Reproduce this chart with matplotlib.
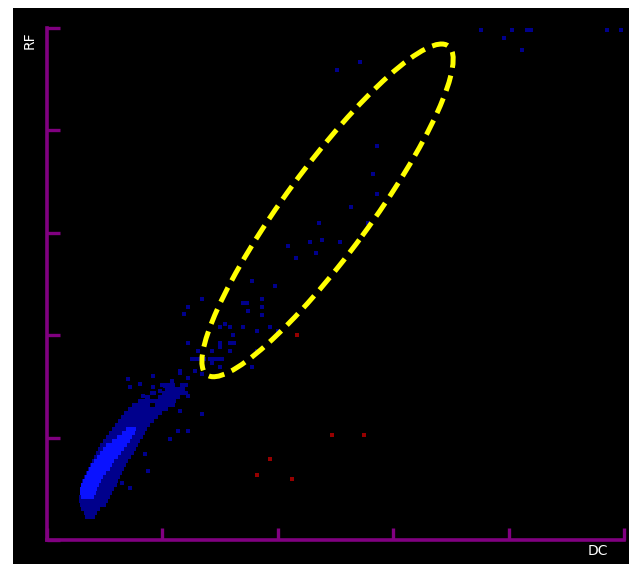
import matplotlib
matplotlib.use("Agg")
import matplotlib.pyplot as plt
from matplotlib.patches import Ellipse, Rectangle
from matplotlib.transforms import ScaledTranslation

# ---------------- data ----------------
# dense cluster, as horizontal runs of dark-blue cells: row y, run start x, run end x
dark_y = [1.517, 1.517, 1.477, 1.438, 1.438, 1.399, 1.399, 1.360, 1.321, 1.321,
          1.282, 1.243, 1.204, 1.164, 1.125, 1.086, 1.047, 1.008, 0.969, 0.930,
          0.890, 0.851, 0.812, 0.773, 0.734, 0.695, 0.656, 0.616, 0.577, 0.538,
          0.499, 0.460, 0.421, 0.382, 0.342, 0.303, 0.264, 0.225]
dark_x0 = [0.978, 1.150, 1.021, 0.891, 0.995, 0.848, 0.960, 0.787, 0.735, 0.934,
           0.701, 0.666, 0.640, 0.614, 0.588, 0.562, 0.536, 0.510, 0.484, 0.458,
           0.441, 0.424, 0.407, 0.389, 0.372, 0.355, 0.337, 0.320, 0.303, 0.294,
           0.285, 0.285, 0.277, 0.277, 0.285, 0.294, 0.320, 0.329]
dark_x1 = [1.107, 1.220, 1.194, 0.943, 1.220, 0.891, 1.150, 1.116, 0.891, 1.107,
           1.047, 0.995, 0.960, 0.926, 0.891, 0.865, 0.848, 0.830, 0.804, 0.787,
           0.770, 0.752, 0.727, 0.701, 0.683, 0.666, 0.649, 0.631, 0.614, 0.606,
           0.580, 0.562, 0.545, 0.528, 0.510, 0.458, 0.433, 0.415]
# bright-blue (densest) runs
bright_y = [1.086, 1.047, 1.008, 0.969, 0.930, 0.890, 0.851, 0.812, 0.773, 0.734,
            0.695, 0.656, 0.616, 0.577, 0.538, 0.499, 0.460, 0.421]
bright_x0 = [0.683, 0.649, 0.606, 0.562, 0.510, 0.484, 0.458, 0.433, 0.407, 0.381,
             0.363, 0.346, 0.329, 0.311, 0.294, 0.285, 0.285, 0.294]
bright_x1 = [0.770, 0.761, 0.735, 0.718, 0.692, 0.666, 0.640, 0.614, 0.580, 0.562,
             0.545, 0.510, 0.484, 0.467, 0.450, 0.433, 0.424, 0.407]

# sparse blue points (DC, RF)
blue_x = [0.917, 1.150, 1.220, 0.718, 0.804, 0.917, 0.830, 1.220, 1.150, 1.133,
          1.220, 1.064, 1.341, 0.874, 0.718, 0.649, 0.848, 1.021, 1.081, 0.978,
          0.701, 1.280, 1.341,
          1.773, 1.972, 1.341, 1.696, 1.730, 1.860, 1.220, 1.860, 1.185, 1.739,
          1.860, 1.540, 1.497, 1.583, 1.696, 1.929, 1.817, 1.998, 1.609, 1.220,
          1.497, 1.497, 1.583, 1.618, 1.306, 1.427, 1.583, 1.817, 1.254, 1.289,
          1.324, 1.358, 1.410, 1.445, 1.479, 1.514, 1.427, 1.497, 1.773, 1.150,
          2.085, 2.275, 2.379, 2.543, 2.154, 2.327, 2.630, 2.353, 2.785, 2.863,
          2.829, 2.863, 2.517, 2.708,
          3.763, 4.031, 4.161, 4.196, 3.962, 4.118, 4.853, 4.974]
blue_y = [1.605, 1.634, 1.585, 1.497, 1.526, 1.497, 1.409, 1.409, 1.262, 1.067,
          1.067, 0.988, 1.233, 0.675, 0.509, 0.558, 0.841, 1.507, 1.556, 1.458,
          1.575, 1.654, 1.624,
          2.534, 2.476, 2.358, 2.319, 2.319, 2.358, 2.280, 2.280, 2.211, 2.241,
          2.202, 2.114, 2.084, 2.084, 2.084, 2.084, 2.045, 2.045, 2.006, 1.928,
          1.928, 1.888, 1.928, 1.928, 1.849, 1.849, 1.849, 1.849, 1.771, 1.771,
          1.771, 1.771, 1.771, 1.771, 1.771, 1.771, 1.732, 1.693, 1.693, 1.654,
          2.867, 2.906, 2.926, 2.906, 2.750, 2.798, 3.249, 3.092, 3.092, 3.376,
          3.571, 3.845, 4.589, 4.667,
          4.980, 4.980, 4.980, 4.980, 4.902, 4.785, 4.980, 4.980]

# dark red points
red_x = [2.474, 2.751, 1.929, 1.817, 2.119, 2.163]
red_y = [1.027, 1.027, 0.793, 0.636, 0.597, 2.006]

# highlighted region (ellipse): centre in data units
ell_cx, ell_cy = 2.431, 3.219

tick_vals = [0, 1, 2, 3, 4, 5]

DARK = "#00008c"
BRIGHT = "#0a12ff"
RED = "#960000"
PURPLE = "#800080"

# ---------------- figure ----------------
W, H, DPI = 629, 564, 100
fig = plt.figure(figsize=(W / DPI, H / DPI), dpi=DPI, facecolor="white")
fig.patches.append(Rectangle((13 / W, 0), 1 - 13 / W, (H - 8) / H,
                             transform=fig.transFigure, facecolor="black",
                             edgecolor="none", zorder=-10))

ax = fig.add_axes([47 / W, 24 / H, (624 - 47) / W, (540 - 28) / H])
ax.set_facecolor("none")
ax.set_xlim(0, 5)
ax.set_ylim(0, 5)

row_h = 4 / 102.4
ax.barh(dark_y, [b - a for a, b in zip(dark_x0, dark_x1)], left=dark_x0,
        height=row_h, color=DARK, linewidth=0, zorder=2)
ax.barh(bright_y, [b - a for a, b in zip(bright_x0, bright_x1)], left=bright_x0,
        height=row_h, color=BRIGHT, linewidth=0, zorder=3)

ax.scatter(blue_x, blue_y, marker="s", s=9, color=DARK, linewidths=0, zorder=4,
           clip_on=False)
ax.scatter(red_x, red_y, marker="s", s=9, color=RED, linewidths=0, zorder=4)

# ellipse drawn in inches around its data-space centre
trans = fig.dpi_scale_trans + ScaledTranslation(ell_cx, ell_cy, ax.transData)
ell = Ellipse((0, 0), width=2 * 204 / DPI, height=2 * 43 / DPI, angle=53.7,
              transform=trans, fill=False, edgecolor="#ffff00", linewidth=3.6,
              linestyle=(0, (3.2, 1.6)), zorder=6, clip_on=False)
ax.add_patch(ell)

for s in ["top", "right"]:
    ax.spines[s].set_visible(False)
for s in ["left", "bottom"]:
    ax.spines[s].set_color(PURPLE)
    ax.spines[s].set_linewidth(2.6)
ax.set_xticks(tick_vals)
ax.set_yticks(tick_vals)
ax.tick_params(direction="in", length=9, width=2.4, color=PURPLE,
               labelbottom=False, labelleft=False)

fig.text(30 / W, 1 - 40 / H, "RF", color="white", fontsize=10, rotation=90,
         ha="center", va="center", family="DejaVu Sans")
fig.text(598 / W, 1 - 551 / H, "DC", color="white", fontsize=10,
         ha="center", va="center", family="DejaVu Sans")

fig.savefig("out.png", dpi=DPI, facecolor="white")
